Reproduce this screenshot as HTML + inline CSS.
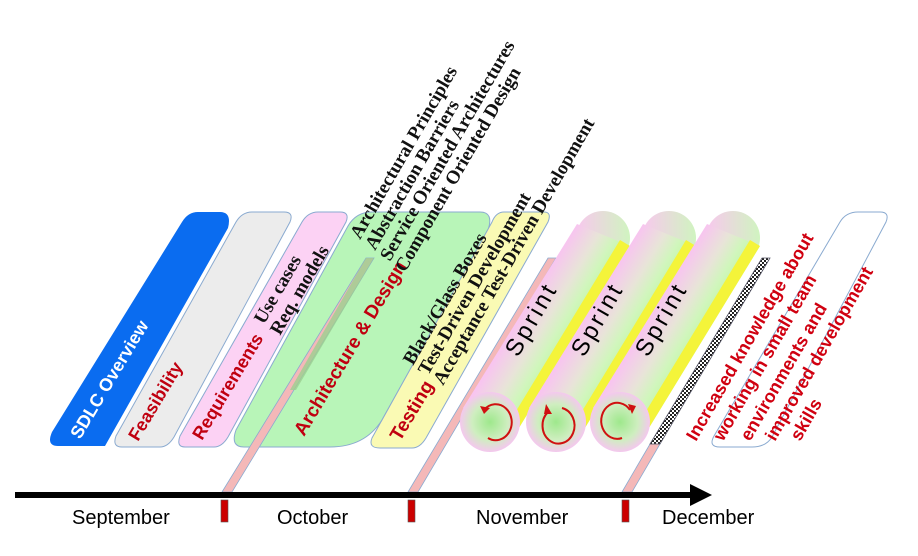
<!DOCTYPE html>
<html><head><meta charset="utf-8"><style>
body{margin:0;background:#fff}
svg{display:block}
.s{font-family:"Liberation Sans",sans-serif;font-weight:bold}
.f{font-family:"Liberation Serif",serif;font-weight:bold;font-size:19px;fill:#111}
</style></head><body>
<svg width="918" height="556" viewBox="0 0 918 556" xmlns="http://www.w3.org/2000/svg">
<defs>
<linearGradient id="cyl" gradientUnits="userSpaceOnUse" x1="468" y1="402" x2="514" y2="430">
<stop offset="0" stop-color="#f8c4f0"/><stop offset="0.45" stop-color="#e8e4d8"/><stop offset="0.75" stop-color="#d0f6bc"/><stop offset="1" stop-color="#c4f4a8"/></linearGradient>
<radialGradient id="end" cx="0.5" cy="0.5" r="0.5"><stop offset="0" stop-color="#9ee88c"/><stop offset="0.6" stop-color="#cfeec0"/><stop offset="1" stop-color="#f4c8ee"/></radialGradient>
<linearGradient id="top" x1="0" y1="0" x2="1" y2="0"><stop offset="0" stop-color="#f8c8ee"/><stop offset="1" stop-color="#d0f4c0"/></linearGradient>
<pattern id="chk" width="4" height="4" patternUnits="userSpaceOnUse"><rect width="4" height="4" fill="#fff"/><rect width="2" height="2" fill="#222"/><rect x="2" y="2" width="2" height="2" fill="#222"/></pattern>
</defs>
<path d="M58,446 L105,446 L228,228 Q232,212 220,212 L198,212 Q188,212 182,222 L52,432 Q46,446 58,446Z" fill="#0a6cf0"/>
<path d="M122,447 L160,447 Q168,447 174,437 L290,222 Q294,212 284,212 L252,212 Q242,212 236,222 L116,436 Q112,447 122,447Z" fill="#ececec" stroke="#8aaad0"/>
<path d="M185,447 L214,447 Q222,447 228,437 L346,222 Q350,212 340,212 L318,212 Q308,212 302,222 L180,436 Q176,447 185,447Z" fill="#fcd2f4" stroke="#8aaad0"/>
<path d="M244,447 L330,447 Q365,447 382,420 L488,230 Q494,212 480,212 L372,212 Q356,212 348,226 L236,430 Q230,447 244,447Z" fill="#b8f5b8" stroke="#8aaad0"/>
<path d="M380,448 L412,448 Q420,448 426,438 L548,222 Q552,212 544,212 L504,212 Q496,212 492,222 L372,438 Q368,448 380,448Z" fill="#fafab4" stroke="#8aaad0"/>
<path d="M720,447 L752,447 Q766,447 772,437 L886,222 Q890,212 880,212 L858,212 Q846,212 840,222 L714,436 Q708,447 720,447Z" fill="#fff" stroke="#8aaad0"/>
<polygon points="222,492 232,492 374,258 366,258" fill="#f4b8b8" stroke="#8aaad0" stroke-width="0.8"/>
<polygon points="290,390 296,390 374,258 366,258" fill="#9ccf90" opacity="0.8"/>
<polygon points="408,492 418,492 556,258 548,258" fill="#f4b8b8" stroke="#8aaad0" stroke-width="0.8"/>
<polygon points="622,492 632,492 660,444 650,444" fill="#f4b8b8" stroke="#8aaad0" stroke-width="0.8"/>
<polygon points="650,444 660,444 770,258 762,258" fill="url(#chk)" stroke="#556" stroke-width="0.8"/>
<g id="sp">
<circle cx="603" cy="238" r="27" fill="url(#top)"/>
<polygon points="463,408 514,436 630,246 577,224" fill="url(#cyl)"/>
<polygon points="504,431 514,436 630,246 620,240" fill="#f4f43a"/>
<circle cx="490" cy="422" r="30" fill="url(#end)"/>
</g>
<use href="#sp" x="66" y="0"/>
<use href="#sp" x="130" y="0"/>
<g fill="none" stroke="#d01010" stroke-width="2">
<path d="M484,410 A16,18 0 1 1 488,438"/><path d="M548,412 A16,18 0 1 0 562,408"/><path d="M630,410 A16,18 0 1 0 622,438"/>
</g>
<g fill="#d01010"><polygon points="480,406 490,408 484,414"/><polygon points="546,404 552,414 544,414"/><polygon points="636,406 628,404 632,414"/></g>
<rect x="15" y="492" width="682" height="6" fill="#000"/>
<polygon points="690,484 712,495 690,506" fill="#000"/>
<g fill="#c00" stroke="#555" stroke-width="0.6"><rect x="221" y="500" width="7" height="22"/><rect x="408" y="500" width="7" height="22"/><rect x="622" y="500" width="7" height="22"/></g>
<g font-family="Liberation Sans,sans-serif" font-size="20" fill="#000">
<text x="72" y="524">September</text><text x="277" y="524">October</text><text x="476" y="524">November</text><text x="662" y="524">December</text></g>
<g class="s">
<text x="80" y="440" fill="#fff" transform="rotate(-59 80 440)" font-size="18">SDLC Overview</text>
<text x="138" y="442" fill="#c00010" transform="rotate(-59 138 442)" font-size="18">Feasibility</text>
<text x="202" y="441" fill="#c00010" transform="rotate(-59 202 441)" font-size="18">Requirements</text>
<text x="304" y="437" fill="#c00010" transform="rotate(-59 304 437)" font-size="19">Architecture &amp; Design</text>
<text x="400" y="442" fill="#c00010" transform="rotate(-59 400 442)" font-size="19">Testing</text>
</g>
<g class="f">
<text x="264" y="325" transform="rotate(-60 264 325)">Use cases</text>
<text x="280" y="336" transform="rotate(-60 280 336)">Req. models</text>
<text x="360" y="240" transform="rotate(-60 360 240)">Architectural Principles</text>
<text x="375" y="251" transform="rotate(-60 375 251)">Abstraction Barriers</text>
<text x="390" y="262" transform="rotate(-60 390 262)">Service Oriented Architectures</text>
<text x="405" y="273" transform="rotate(-60 405 273)">Component Oriented Design</text>
<text x="413" y="366" transform="rotate(-60 413 366)">Black/Glass Boxes</text>
<text x="428" y="376" transform="rotate(-60 428 376)">Test-Driven Development</text>
<text x="443" y="386" transform="rotate(-60 443 386)">Acceptance Test-Driven Development</text>
</g>
<g font-family="Liberation Sans,sans-serif" font-size="24" fill="#000" letter-spacing="3">
<text x="518" y="358" transform="rotate(-60 518 358)">Sprint</text>
<text x="584" y="358" transform="rotate(-60 584 358)">Sprint</text>
<text x="648" y="358" transform="rotate(-60 648 358)">Sprint</text>
</g>
<g class="s" font-size="18" fill="#d00010">
<text x="696" y="442" transform="rotate(-60 696 442)">Increased knowledge about</text>
<text x="723" y="442" transform="rotate(-60 723 442)">working in small team</text>
<text x="750" y="442" transform="rotate(-60 750 442)">environments and</text>
<text x="775" y="442" transform="rotate(-60 775 442)">improved development</text>
<text x="800" y="442" transform="rotate(-60 800 442)">skills</text>
</g>
</svg>
</body></html>
